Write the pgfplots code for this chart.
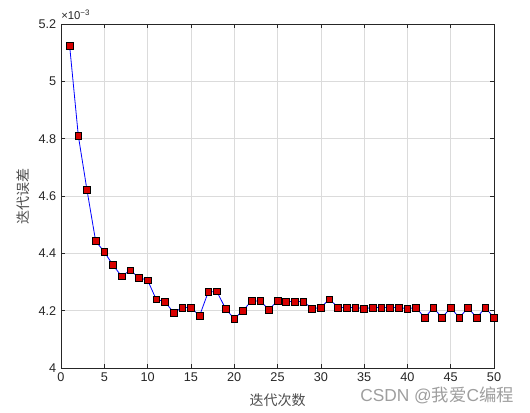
\documentclass[border=0pt]{standalone}
\usepackage{fontspec}
\setmainfont{Liberation Sans}
\newfontfamily\cjk{Noto Sans CJK SC}
\usepackage{pgfplots}
\pgfplotsset{compat=1.18}
\definecolor{tickgray}{RGB}{38,38,38}
\definecolor{mred}{RGB}{215,0,0}
\pgfplotstableread{
x y
1 5.123
2 4.810
3 4.621
4 4.443
5 4.405
6 4.359
7 4.320
8 4.341
9 4.315
10 4.306
11 4.239
12 4.232
13 4.193
14 4.211
15 4.211
16 4.182
17 4.265
18 4.267
19 4.207
20 4.172
21 4.200
22 4.234
23 4.234
24 4.204
25 4.234
26 4.232
27 4.232
28 4.232
29 4.207
30 4.211
31 4.240
32 4.211
33 4.211
34 4.211
35 4.207
36 4.211
37 4.211
38 4.211
39 4.211
40 4.207
41 4.211
42 4.175
43 4.211
44 4.175
45 4.211
46 4.175
47 4.211
48 4.175
49 4.211
50 4.175
}\datatable
\begin{document}
\begin{tikzpicture}
\begin{axis}[
  at={(0pt,0pt)}, anchor=south west,
  scale only axis, width=324.75pt, height=258pt,
  xmin=0, xmax=50, ymin=4, ymax=5.2,
  xtick={0,5,10,15,20,25,30,35,40,45,50},
  ytick={4,4.2,4.4,4.6,4.8,5,5.2},
  yticklabels={4,4.2,4.4,4.6,4.8,5,5.2},
  grid=major,
  major grid style={draw=black!14, line width=0.4pt},
  tick align=inside,
  major tick length=3.3pt,
  axis line style={draw=tickgray, line width=0.5pt},
  every tick/.style={draw=tickgray, line width=0.4pt},
  ticklabel style={font=\fontsize{9.5}{11}\selectfont, text=tickgray},
  /pgf/number format/assume math mode=true,
  scaled y ticks=false,
  xlabel={\cjk 迭代次数},
  ylabel={\cjk 迭代误差},
  label style={font=\fontsize{10.5}{12}\selectfont, text=black!70},
  xlabel style={at={(axis description cs:0.5,-0.093)}, anchor=center},
  ylabel style={at={(axis description cs:-0.088,0.5)}, anchor=center},
  clip=false,
]
\addplot[color=blue, line width=0.6pt, mark=square*, mark size=2.5pt,
  mark options={fill=mred, draw=black, line width=0.5pt}] table[x=x,y=y] {\datatable};
\node[anchor=south west, font=\fontsize{8.5}{10}\selectfont, text=tickgray, inner sep=0pt]
  at (axis description cs:0,1.012) {×10\textsuperscript{−3}};
\end{axis}
\node[font=\fontsize{13}{15}\selectfont, text=black!38] at (282pt,-20.25pt) {CSDN @{\cjk 我爱}C{\cjk 编程}};
\path[use as bounding box] (-45.75pt,-33pt) rectangle (351.75pt,276pt);
\end{tikzpicture}
\end{document}
